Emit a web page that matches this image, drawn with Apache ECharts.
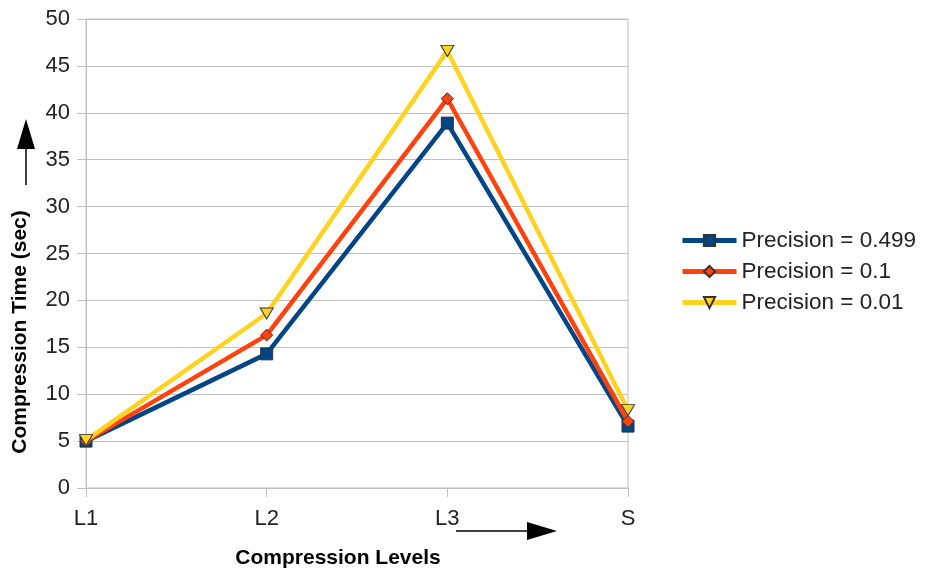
<!DOCTYPE html>
<html><head><meta charset="utf-8">
<script src="https://cdn.jsdelivr.net/npm/echarts@6/dist/echarts.min.js"></script>
<style>html,body{margin:0;padding:0;background:#fff}#c{width:925px;height:568px}</style>
</head><body><div id="c"></div>
<script>
const categories = ['L1', 'L2', 'L3', 'S'];
const seriesNames = ['Precision = 0.499', 'Precision = 0.1', 'Precision = 0.01'];
const p0499 = [5.0, 14.3, 38.9, 6.6];
const p01 = [5.0, 16.3, 41.5, 7.1];
const p001 = [5.1, 18.6, 46.6, 8.3];
const yTicks = [0, 5, 10, 15, 20, 25, 30, 35, 40, 45, 50];

const colors = ['#004586', '#ff420e', '#ffd320'];
const tri = 'path://M0,0 L10,0 L5,8 Z';
const symbols = ['rect', 'diamond', tri];
const sizes = [12, 12, [13, 11]];
const font = 'Liberation Sans, Arial, sans-serif';
const chart = echarts.init(document.getElementById('c'));
const data = [p0499, p01, p001];
chart.setOption({
  animation: false,
  grid: { left: 86, right: 297, top: 19, bottom: 80, containLabel: false, outerBoundsMode: 'none', show: true, borderColor: '#c0c0c0', borderWidth: 1, backgroundColor: 'transparent' },
  legend: {
    orient: 'vertical', left: 675, top: 224, itemWidth: 54, itemHeight: 14, itemGap: 8,
    lineStyle: { width: 5 },
    textStyle: { fontFamily: font, fontSize: 22.5, color: '#222' },
    data: seriesNames
  },
  xAxis: {
    type: 'category', data: categories, boundaryGap: false,
    name: 'Compression Levels', nameLocation: 'middle', nameGap: 60,
    nameTextStyle: { fontFamily: font, fontSize: 21, fontWeight: 'bold', color: '#000', padding: [0, 38, 0, 0] },
    axisLine: { lineStyle: { color: '#c0c0c0' } },
    axisTick: { show: true, length: 9, lineStyle: { color: '#c0c0c0' } },
    axisLabel: { fontFamily: font, fontSize: 22, color: '#222', margin: 20 },
    splitLine: { show: false }
  },
  yAxis: {
    type: 'value', min: yTicks[0], max: yTicks[yTicks.length - 1], interval: 5,
    name: 'Compression Time (sec)', nameLocation: 'middle', nameGap: 55,
    nameTextStyle: { fontFamily: font, fontSize: 21, fontWeight: 'bold', color: '#000', padding: [0, 0, 0, -157] },
    axisLine: { show: true, lineStyle: { color: '#c0c0c0' } },
    axisTick: { show: true, length: 9, lineStyle: { color: '#c0c0c0' } },
    axisLabel: { fontFamily: font, fontSize: 22, color: '#222', margin: 16 },
    splitLine: { lineStyle: { color: '#c0c0c0' } }
  },
  series: seriesNames.map((n, i) => ({
    name: n, type: 'line', data: data[i],
    symbol: symbols[i], symbolSize: sizes[i],
    color: colors[i],
    lineStyle: { width: 4.5, color: colors[i] },
    itemStyle: { color: colors[i], borderColor: '#333', borderWidth: 1 },
    z: 2 + i
  })),
  graphic: [
    { type: 'line', shape: { x1: 26, y1: 185, x2: 26, y2: 140 }, style: { stroke: '#000', lineWidth: 1.5 } },
    { type: 'polygon', shape: { points: [[26, 119], [17, 149], [35, 149]] }, style: { fill: '#000' } },
    { type: 'line', shape: { x1: 456, y1: 531, x2: 530, y2: 531 }, style: { stroke: '#000', lineWidth: 1.5 } },
    { type: 'polygon', shape: { points: [[557, 531], [527, 522], [527, 540]] }, style: { fill: '#000' } }
  ]
});
</script></body></html>
